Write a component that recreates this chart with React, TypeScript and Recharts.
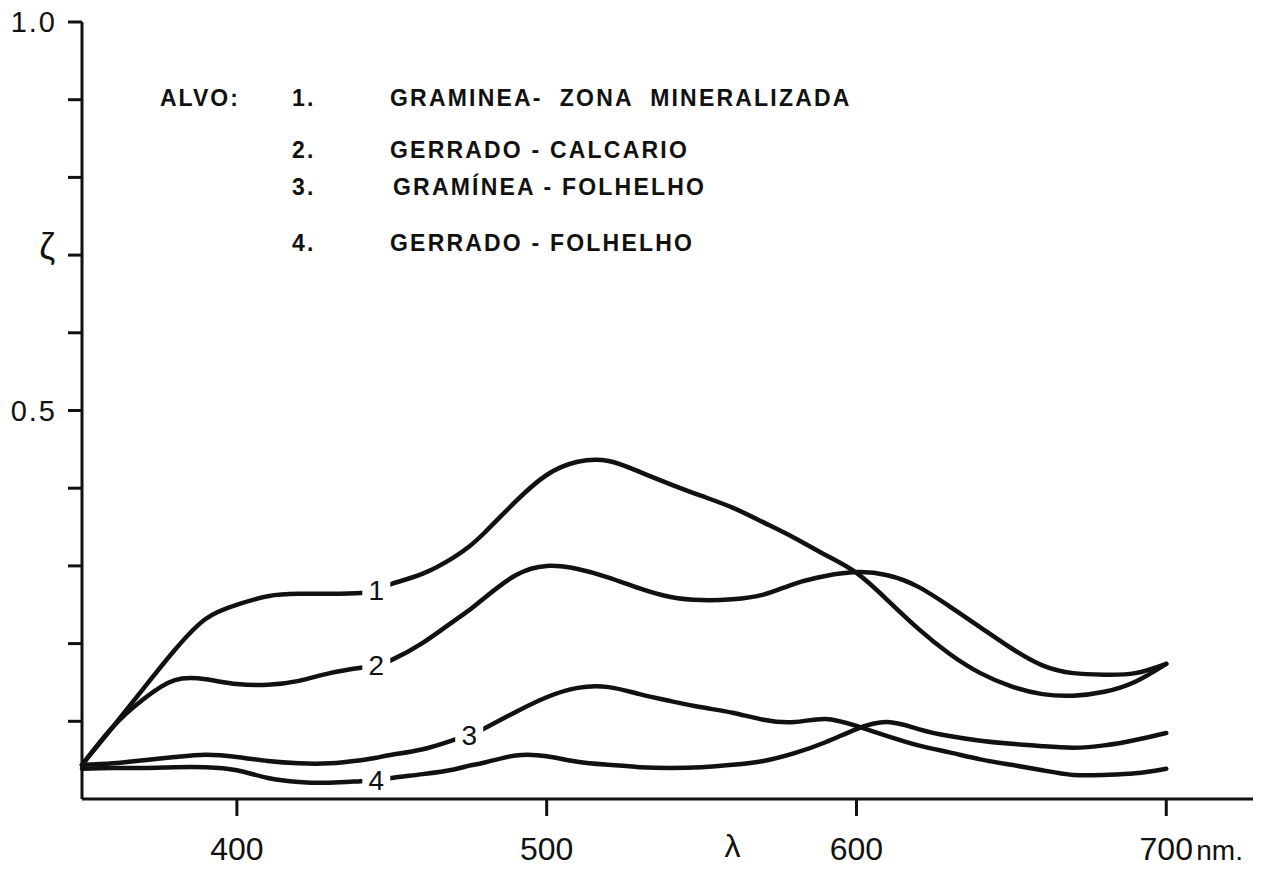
import { LineChart, Line, XAxis, YAxis } from 'recharts'

// wavelength (nm) at which the curves were read
const wavelengths = [
  350, 360, 370, 380, 390, 400, 410, 420, 430, 440, 445, 450, 460, 470, 475, 480, 490,
  500, 510, 520, 530, 540, 550, 560, 570, 580, 590, 600, 610, 620, 630, 640, 650, 660, 670, 680, 690, 700,
]

// reflectance of each target
const curve1 = [
  0.044, 0.093, 0.143, 0.192, 0.232, 0.25, 0.261, 0.264, 0.264, 0.265, 0.269, 0.277, 0.29, 0.311, 0.325, 0.343, 0.383,
  0.417, 0.434, 0.435, 0.421, 0.405, 0.39, 0.375, 0.356, 0.336, 0.314, 0.291, 0.256, 0.219, 0.187, 0.162, 0.145, 0.135, 0.133, 0.138, 0.151, 0.174,
]
const curve2 = [
  0.044, 0.093, 0.129, 0.153, 0.154, 0.148, 0.147, 0.152, 0.162, 0.169, 0.172, 0.179, 0.201, 0.229, 0.243, 0.259, 0.288,
  0.3, 0.296, 0.285, 0.271, 0.26, 0.256, 0.257, 0.263, 0.277, 0.287, 0.292, 0.288, 0.273, 0.248, 0.221, 0.194, 0.172, 0.162, 0.16, 0.162, 0.174,
]
const curve3 = [
  0.044, 0.046, 0.05, 0.054, 0.057, 0.054, 0.049, 0.046, 0.046, 0.05, 0.053, 0.057, 0.064, 0.076, 0.082, 0.091, 0.112,
  0.131, 0.143, 0.144, 0.135, 0.126, 0.118, 0.111, 0.102, 0.099, 0.103, 0.094, 0.081, 0.069, 0.06, 0.051, 0.044, 0.037, 0.031, 0.031, 0.033, 0.039,
]
const curve4 = [
  0.039, 0.04, 0.04, 0.041, 0.041, 0.037, 0.027, 0.022, 0.021, 0.023, 0.024, 0.027, 0.032, 0.038, 0.043, 0.047, 0.056,
  0.055, 0.048, 0.044, 0.041, 0.04, 0.041, 0.044, 0.049, 0.059, 0.073, 0.09, 0.099, 0.09, 0.081, 0.075, 0.071, 0.068, 0.066, 0.069, 0.076, 0.085,
]

// where the number of each curve is written on the line
const curveNames = ['1', '2', '3', '4']
const curveLabelAt = [445, 445, 475, 445]

const legendNumbers = ['1.', '2.', '3.', '4.']
const legendNames = [
  'GRAMINEA-  ZONA  MINERALIZADA',
  'GERRADO - CALCARIO',
  'GRAMÍNEA - FOLHELHO',
  'GERRADO - FOLHELHO',
]

const xTicks = [400, 500, 600, 700]
const yTicks = [0.1, 0.2, 0.3, 0.4, 0.5, 0.6, 0.7, 0.8, 0.9, 1.0]
const yTickText: Record<string, string> = { '1': '1.0', '0.5': '0.5', '0.7': 'ζ' }

const chartData = wavelengths.map((w, i) => ({
  w,
  c1: curve1[i],
  c2: curve2[i],
  c3: curve3[i],
  c4: curve4[i],
}))

const FONT = '"Liberation Sans", Arial, sans-serif'
const INK = '#111'

function XTick(props: any) {
  const { x, y, payload } = props
  const v = payload.value
  return (
    <g>
      <text x={x} y={y + 44} textAnchor="middle" fontSize={32} fontFamily={FONT} fill={INK}>
        {v}
      </text>
      {v === 700 && (
        <text x={x + 30} y={y + 44} fontSize={28} fontFamily={FONT} fill={INK}>
          nm.
        </text>
      )}
    </g>
  )
}

function YTick(props: any) {
  const { x, y, payload } = props
  const txt = yTickText[String(payload.value)]
  if (!txt) return <g />
  if (txt === 'ζ') {
    return (
      <text x={x - 13} y={y + 4} textAnchor="end" fontSize={36} fontFamily={FONT} fill={INK}>
        {txt}
      </text>
    )
  }
  return (
    <text x={x - 11} y={y + 10} textAnchor="end" fontSize={29} letterSpacing={2} fontFamily={FONT} fill={INK}>
      {txt}
    </text>
  )
}

// number written in a small gap of the curve
const curveLabel = (name: string, at: number) => (props: any) => {
  const { cx, cy, payload, index } = props
  if (!payload || payload.w !== at) return <g key={`d-${name}-${index}`} />
  return (
    <g key={`d-${name}-${index}`}>
      <rect x={cx - 14} y={cy - 15} width={28} height={30} fill="#fff" />
      <text x={cx} y={cy + 10} textAnchor="middle" fontSize={28} fontFamily={FONT} fill={INK}>
        {name}
      </text>
    </g>
  )
}

export default function App() {
  const rowTop = [86, 138, 175, 231]
  const keys = ['c1', 'c2', 'c3', 'c4']

  return (
    <div style={{ position: 'absolute', left: 0, top: 0, width: 1266, height: 874, background: '#fff' }}>
      <LineChart width={1266} height={874} data={chartData} margin={{ top: 22, right: 13, left: 0, bottom: 0 }}>
        <XAxis
          dataKey="w"
          type="number"
          domain={[350, 728]}
          ticks={xTicks}
          tick={<XTick />}
          tickSize={17}
          tickMargin={0}
          height={75}
          axisLine={{ stroke: INK, strokeWidth: 3 }}
          tickLine={{ stroke: INK, strokeWidth: 3 }}
          label={{ value: 'λ', position: 'insideBottom', offset: 17, dx: 65, fontSize: 32, fontFamily: FONT, fill: INK }}
        />
        <YAxis
          type="number"
          domain={[0, 1]}
          ticks={yTicks}
          tick={<YTick />}
          tickSize={14}
          tickMargin={0}
          width={82}
          axisLine={{ stroke: INK, strokeWidth: 3 }}
          tickLine={{ stroke: INK, strokeWidth: 3 }}
        />
        {keys.map((k, i) => (
          <Line
            key={k}
            type="natural"
            dataKey={k}
            stroke={INK}
            strokeWidth={4.5}
            strokeLinecap="round"
            dot={curveLabel(curveNames[i], curveLabelAt[i])}
            activeDot={false}
            isAnimationActive={false}
          />
        ))}
      </LineChart>

      {/* legend, lettered by hand in the original */}
      <div
        style={{
          position: 'absolute',
          left: 0,
          top: 0,
          fontFamily: FONT,
          fontSize: 23,
          fontWeight: 'bold',
          lineHeight: '24px',
          color: INK,
          letterSpacing: 2.2,
          whiteSpace: 'pre',
        }}
      >
        <div style={{ position: 'absolute', left: 160, top: rowTop[0], letterSpacing: 2 }}>ALVO:</div>
        {legendNumbers.map((n, i) => (
          <div key={n} style={{ position: 'absolute', left: 292, top: rowTop[i] }}>
            {n}
          </div>
        ))}
        {legendNames.map((t, i) => (
          <div key={t} style={{ position: 'absolute', left: i === 2 ? 393 : 390, top: rowTop[i] }}>
            {t}
          </div>
        ))}
      </div>
    </div>
  )
}
